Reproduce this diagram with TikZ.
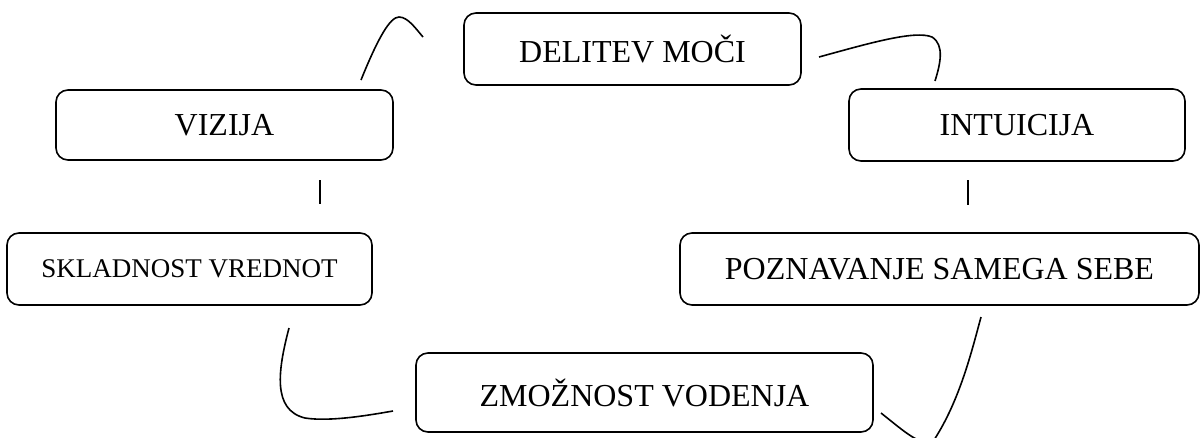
\documentclass[tikz,border=0pt]{standalone}
\usepackage{fontspec}
\setmainfont{Liberation Serif}
\begin{document}
\begin{tikzpicture}[x=1pt,y=-1pt,
  box/.style={draw, line width=1.6pt, rounded corners=12pt, inner sep=0pt,
    font=\fontsize{32}{37}\selectfont},
  fittext/.style={font=\fontsize{27}{31}\selectfont},
  conn/.style={line width=1.6pt}]
\clip (0,0) rectangle (1201,437);
\useasboundingbox (0,0) rectangle (1201,437);
\node[box, minimum width=337pt, minimum height=72pt] (del) at (632.5,49) {DELITEV MOČI};
\node[box, minimum width=337pt, minimum height=70pt] (viz) at (224.5,125) {VIZIJA};
\node[box, minimum width=336pt, minimum height=72pt] (int) at (1017,125) {INTUICIJA};
\node[box, fittext, minimum width=365pt, minimum height=72pt] (skl) at (189.5,269) {SKLADNOST VREDNOT};
\node[box, minimum width=519pt, minimum height=72pt] (poz) at (939.5,269) {POZNAVANJE SAMEGA SEBE};
\node[box, minimum width=457pt, minimum height=79pt] (zmo) at (644.5,392.5) {ZMOŽNOST VODENJA};
% connector end points
\coordinate (a1) at (361,80);
\coordinate (a2) at (423,37);
\coordinate (b1) at (819,57);
\coordinate (b2) at (935,81);
\coordinate (c1) at (320,180);
\coordinate (c2) at (320,204);
\coordinate (d1) at (968,180);
\coordinate (d2) at (968,205);
\coordinate (e1) at (289,328);
\coordinate (e2) at (393,411);
\coordinate (f1) at (881,413);
\coordinate (f2) at (981,317);
\draw[conn] (a1) .. controls (378,38) and (390,17) .. (399,17) .. controls (408,17) and (416,29) .. (a2);
\draw[conn] (b1) .. controls (870,43) and (915,30) .. (932,37) .. controls (945,45) and (940,65) .. (b2);
\draw[conn] (c1) -- (c2);
\draw[conn] (d1) -- (d2);
\draw[conn] (e1) .. controls (278,370) and (272,410) .. (305,418) .. controls (330,422) and (370,415) .. (e2);
\draw[conn] (f1) .. controls (905,432) and (922,448) .. (934,440) .. controls (960,400) and (972,350) .. (f2);
\end{tikzpicture}
\end{document}
